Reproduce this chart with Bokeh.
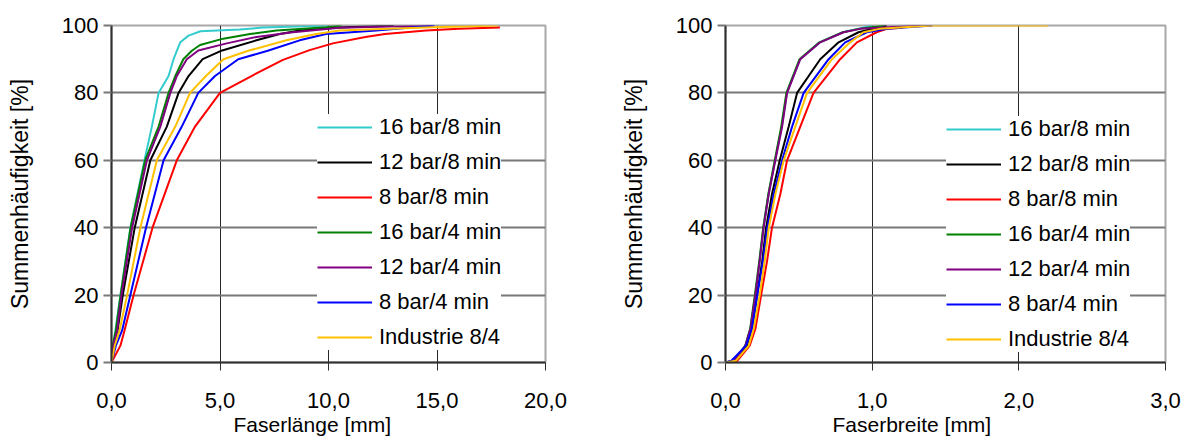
from bokeh.plotting import figure
from bokeh.layouts import row
from bokeh.models import FixedTicker, Range1d, Title
from bokeh.embed import file_html
from bokeh.resources import INLINE

# Series names and colours (legend order)
series_labels = ["16 bar/8 min", "12 bar/8 min", "8 bar/8 min", "16 bar/4 min",
                 "12 bar/4 min", "8 bar/4 min", "Industrie 8/4"]
series_colors = ["#33CCCC", "#000000", "#FF0000", "#008000",
                 "#800080", "#0000FF", "#FFC000"]

# ---- Fibre length [mm] vs. cumulative frequency [%] ----
len_16_8_x = [0, 0.06, 0.18, 0.41, 0.87, 1.52, 1.86, 2.17, 2.63, 2.86, 3.01, 3.17, 3.55, 4.1, 5.9, 7.0, 10.0]
len_16_8_y = [0, 5, 9.5, 20, 40, 60, 70, 80, 85, 90, 92.5, 95, 97, 98.3, 98.8, 99.4, 100]

len_12_8_x = [0, 0.08, 0.28, 0.52, 1.07, 1.79, 2.55, 3.09, 3.55, 4.2, 5.1, 6.68, 7.75, 8.67, 10.5, 13.0]
len_12_8_y = [0, 5, 9.5, 20, 40, 60, 70, 80, 85, 90, 92.6, 95.6, 97.5, 98.5, 99.4, 100]

len_8_8_x = [0, 0.41, 0.6, 1.02, 1.89, 3.01, 3.85, 5.0, 6.45, 7.9, 9.13, 10.2, 11.7, 12.6, 14.5, 16.0, 17.9]
len_8_8_y = [0, 5, 9.5, 20, 40, 60, 70, 80, 85, 89.8, 92.7, 94.7, 96.6, 97.5, 98.5, 99.0, 99.4]

len_16_4_x = [0, 0.06, 0.2, 0.42, 0.88, 1.55, 2.17, 2.63, 2.94, 3.31, 3.7, 4.08, 5.15, 6.38, 7.6, 9.9, 10.6]
len_16_4_y = [0, 5, 9.5, 20, 40, 60, 70, 80, 85, 90, 92.5, 94.2, 96.1, 97.5, 98.5, 99.5, 100]

len_12_4_x = [0, 0.08, 0.26, 0.46, 0.95, 1.63, 2.25, 2.71, 3.01, 3.47, 4.0, 5.31, 6.68, 8.36, 10.5, 14.8]
len_12_4_y = [0, 5, 9.5, 20, 40, 60, 70, 80, 85, 90, 92.6, 94.7, 96.6, 98, 99.3, 100]

len_8_4_x = [0, 0.2, 0.49, 0.87, 1.59, 2.40, 3.24, 4.0, 4.77, 5.84, 7.2, 8.67, 9.89, 12.2, 14.9]
len_8_4_y = [0, 5, 9.5, 20, 40, 60, 70, 80, 85, 90, 92.5, 95.6, 97.5, 98.5, 100]

len_ind_x = [0, 0.15, 0.37, 0.72, 1.33, 2.09, 2.94, 3.62, 4.35, 5.16, 6.3, 8.06, 9.44, 10.5, 14.8, 17.8]
len_ind_y = [0, 5, 9.5, 20, 40, 60, 70, 80, 85, 90, 92.5, 95.6, 97.5, 98.5, 99.5, 100]

# ---- Fibre width [mm] vs. cumulative frequency [%] ----
wid_y = [0, 0.5, 5, 10, 20, 30, 40, 50, 60, 70, 80, 90, 95, 98, 99, 100]

wid_16_8_x = [0, 0.06, 0.136, 0.17, 0.203, 0.232, 0.259, 0.294, 0.338, 0.384, 0.418, 0.508, 0.643, 0.80, 0.90, 1.0]
wid_12_8_x = [0, 0.07, 0.145, 0.18, 0.215, 0.25, 0.277, 0.317, 0.37, 0.431, 0.488, 0.646, 0.771, 0.907, 1.0, 1.1]
wid_8_8_x = [0, 0.08, 0.165, 0.204, 0.243, 0.283, 0.317, 0.374, 0.42, 0.51, 0.6, 0.782, 0.896, 1.03, 1.1, 1.21]
wid_8_8_y = [0, 0.5, 5, 10, 20, 30, 40, 50, 60, 70, 80, 90, 95, 98, 99, 99.3]
wid_16_4_x = [0, 0.06, 0.135, 0.168, 0.2, 0.23, 0.257, 0.292, 0.336, 0.38, 0.415, 0.505, 0.64, 0.80, 0.91, 1.08]
wid_12_4_x = [0, 0.06, 0.136, 0.17, 0.204, 0.233, 0.26, 0.295, 0.34, 0.386, 0.42, 0.51, 0.646, 0.805, 0.918, 1.33]
wid_8_4_x = [0, 0.04, 0.14, 0.18, 0.217, 0.255, 0.285, 0.329, 0.386, 0.454, 0.533, 0.703, 0.816, 0.964, 1.1, 1.41]
wid_ind_x = [0, 0.07, 0.159, 0.193, 0.233, 0.267, 0.295, 0.34, 0.397, 0.476, 0.556, 0.726, 0.85, 0.941, 1.05, 1.41, 2.2]
wid_ind_y = [0, 0.5, 5, 10, 20, 30, 40, 50, 60, 70, 80, 90, 95, 98, 99, 100, 100]

# Axis ticks
y_ticks = [0, 20, 40, 60, 80, 100]
len_ticks = [0, 5, 10, 15, 20]
len_tick_labels = ["0,0", "5,0", "10,0", "15,0", "20,0"]
wid_ticks = [0, 1, 2, 3]
wid_tick_labels = ["0,0", "1,0", "2,0", "3,0"]

FONT = "Liberation Sans"


def make_panel(xs, ys, x_end, ticks, tick_labels, x_title, title_offset, width,
               border_left, border_right, border_top, border_bottom, legend_xy):
    p = figure(width=width, height=442, output_backend="svg", toolbar_location=None,
               x_range=Range1d(0, x_end), y_range=Range1d(0, 100),
               min_border_left=border_left, min_border_right=border_right,
               min_border_top=border_top, min_border_bottom=border_bottom)
    p.background_fill_color = "white"
    p.border_fill_color = "white"
    p.outline_line_color = "#a8a8a8"
    p.outline_line_width = 2

    for x, y, lab, col in zip(xs, ys, series_labels, series_colors):
        p.line(x, y, line_color=col, line_width=2, legend_label=lab)

    # axes
    p.xaxis.ticker = FixedTicker(ticks=ticks)
    p.xaxis.major_label_overrides = {t: s for t, s in zip(ticks, tick_labels)}
    p.yaxis.ticker = FixedTicker(ticks=y_ticks)
    p.yaxis.major_label_overrides = {t: str(t) for t in y_ticks}

    for ax in (p.xaxis[0], p.yaxis[0]):
        ax.major_label_text_font = FONT
        ax.major_label_text_font_size = "22px"
        ax.major_label_text_color = "black"
        ax.axis_label_text_font = FONT
        ax.axis_label_text_font_style = "normal"
        ax.axis_label_text_color = "black"
        ax.axis_line_color = "#303030"
        ax.axis_line_width = 2
        ax.minor_tick_line_color = None
        ax.major_tick_in = 0
        ax.major_tick_out = 8

    p.xaxis.major_tick_line_color = "#303030"
    p.xaxis.major_tick_line_width = 1
    p.xaxis.major_label_standoff = 22

    # x-axis title, set a little left of the frame centre
    p.add_layout(Title(text=x_title, align="left", offset=title_offset,
                       text_font=FONT, text_font_size="21px",
                       text_font_style="normal", text_color="black",
                       standoff=0), "below")

    p.yaxis.axis_label = "Summenhäufigkeit [%]"
    p.yaxis.axis_label_text_font_size = "23px"
    p.yaxis.major_tick_line_color = "#787878"
    p.yaxis.major_tick_line_width = 2
    p.yaxis.major_label_standoff = 5
    p.yaxis.axis_label_standoff = 26

    # grid
    p.ygrid.grid_line_color = "#787878"
    p.ygrid.grid_line_width = 2
    p.xgrid.grid_line_color = "#282828"
    p.xgrid.grid_line_width = 1

    # legend
    lg = p.legend[0]
    lg.location = legend_xy
    lg.border_line_color = None
    lg.background_fill_color = "white"
    lg.background_fill_alpha = 1.0
    lg.label_text_font = FONT
    lg.label_text_font_size = "22px"
    lg.label_text_color = "black"
    lg.glyph_width = 55
    lg.glyph_height = 24
    lg.label_height = 24
    lg.label_standoff = 7
    lg.spacing = 9
    lg.padding = 10
    lg.margin = 0
    return p


left = make_panel(
    [len_16_8_x, len_12_8_x, len_8_8_x, len_16_4_x, len_12_4_x, len_8_4_x, len_ind_x],
    [len_16_8_y, len_12_8_y, len_8_8_y, len_16_4_y, len_12_4_y, len_8_4_y, len_ind_y],
    20, len_ticks, len_tick_labels, "Faserlänge [mm]", 122,
    590, 111, 45, 20, 80, (206, 12))

right = make_panel(
    [wid_16_8_x, wid_12_8_x, wid_8_8_x, wid_16_4_x, wid_12_4_x, wid_8_4_x, wid_ind_x],
    [wid_y, wid_y, wid_8_8_y, wid_y, wid_y, wid_y, wid_ind_y],
    3, wid_ticks, wid_tick_labels, "Faserbreite [mm]", 107,
    604, 135, 29, 25, 75, (221, 10))

layout = row(left, right)
open("out.html", "w").write(file_html(layout, INLINE))
